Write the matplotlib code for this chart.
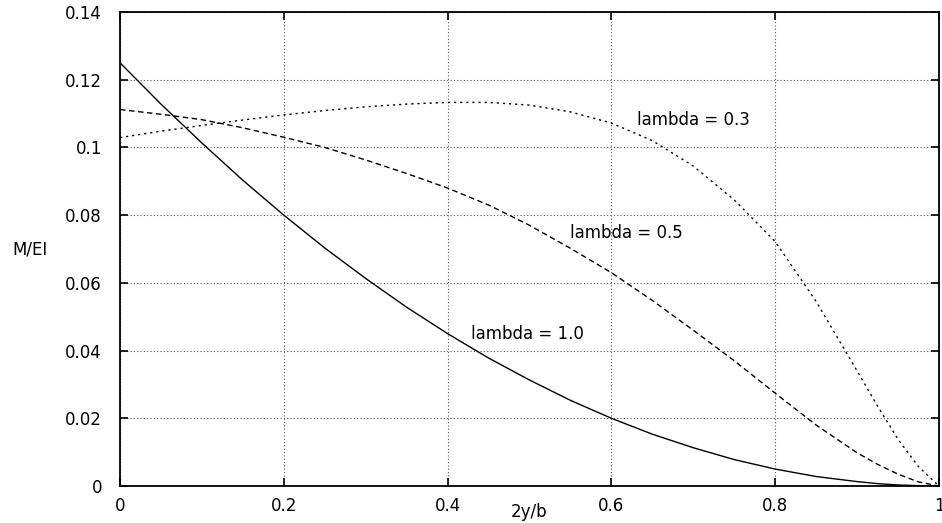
import numpy as np
import matplotlib.pyplot as plt

# values (x = 2y/b)
x = [0.0, 0.05, 0.1, 0.15, 0.2, 0.25, 0.3, 0.35, 0.4, 0.45, 0.5,
     0.55, 0.6, 0.65, 0.7, 0.75, 0.8, 0.85, 0.9, 0.925, 0.95, 0.975, 1.0]

m_lambda10 = [0.125, 0.1128, 0.1013, 0.0903, 0.080, 0.0703, 0.0613, 0.0528, 0.045, 0.0378, 0.0313,
              0.0253, 0.020, 0.0153, 0.0113, 0.0078, 0.005, 0.0028, 0.0013, 0.0007, 0.0003, 0.0001, 0.0]
m_lambda05 = [0.1112, 0.1098, 0.1082, 0.1058, 0.1030, 0.1000, 0.0963, 0.0923, 0.0880, 0.0830, 0.0770,
              0.0702, 0.0630, 0.0548, 0.0460, 0.0370, 0.0274, 0.0180, 0.0098, 0.0064, 0.0035, 0.0012, 0.0]
m_lambda03 = [0.1029, 0.1048, 0.1065, 0.1081, 0.1096, 0.1109, 0.1120, 0.1128, 0.1133, 0.1133, 0.1125,
              0.1105, 0.1072, 0.1020, 0.0945, 0.0845, 0.0722, 0.0545, 0.0340, 0.0236, 0.0138, 0.0057, 0.0]

xticks = [0, 0.2, 0.4, 0.6, 0.8, 1]
xtick_labels = ['0', '0.2', '0.4', '0.6', '0.8', '1']
yticks = [0, 0.02, 0.04, 0.06, 0.08, 0.1, 0.12, 0.14]
ytick_labels = ['0', '0.02', '0.04', '0.06', '0.08', '0.1', '0.12', '0.14']

plt.rcParams['font.family'] = ['DejaVu Sans']
plt.rcParams['font.size'] = 12

fig = plt.figure(figsize=(9.42, 5.23), dpi=100)
ax = fig.add_axes([120/942, 37/523, 819/942, 474/523])

ax.plot(x, m_lambda10, color='black', lw=1.0)
ax.plot(x, m_lambda05, color='black', lw=1.0, linestyle=(0, (4, 2.5)))
ax.plot(x, m_lambda03, color='black', lw=1.0, linestyle=(0, (1.6, 2.8)))

ax.text(0.631, 0.1066, 'lambda = 0.3', ha='left', va='baseline')
ax.text(0.5495, 0.0733, 'lambda = 0.5', ha='left', va='baseline')
ax.text(0.429, 0.0433, 'lambda = 1.0', ha='left', va='baseline')

ax.set_xlim(0, 1)
ax.set_ylim(0, 0.14)
ax.set_xticks(xticks)
ax.set_xticklabels(xtick_labels)
ax.set_yticks(yticks)
ax.set_yticklabels(ytick_labels)
ax.tick_params(direction='in', length=6, width=1.2, top=True, right=True, pad=8)
ax.tick_params(axis='y', pad=13)

ax.grid(True, color='#555555', linestyle=(0, (1, 2)), lw=0.8)

for s in ax.spines.values():
    s.set_linewidth(1.3)

ax.set_xlabel('2y/b')
ax.xaxis.label.set_va('center')
ax.xaxis.set_label_coords(0.5, -0.055)
ax.set_ylabel('M/EI', rotation=0, ha='center', va='center')
ax.yaxis.set_label_coords(-0.11, 0.5)

fig.savefig('out.png', dpi=100)
